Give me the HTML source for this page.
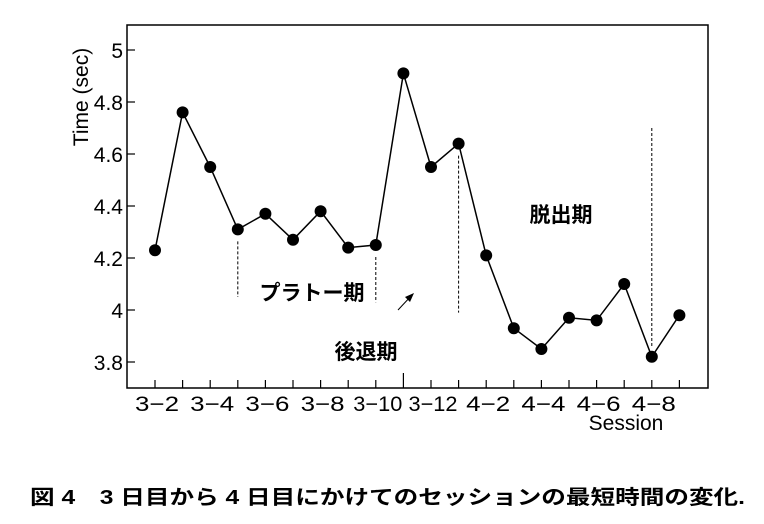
<!DOCTYPE html>
<html><head><meta charset="utf-8"><style>
html,body{margin:0;padding:0;background:#fff;width:764px;height:524px;overflow:hidden}
svg text{font-family:"Liberation Sans","Noto Sans CJK JP",sans-serif}
</style></head><body>
<svg id="chart" width="764" height="524">
<rect x="127" y="25" width="581" height="363" fill="none" stroke="#000" stroke-width="1.5"/>
<g id="yaxis"></g>
<g id="xaxis"></g>
<g id="dashes"></g>
<g id="series"></g>
<text x="0" y="0" transform="translate(88,97) rotate(-90)" text-anchor="middle" font-size="21">Time (sec)</text>
<text x="626" y="430" text-anchor="middle" font-size="21">Session</text>
<text x="312" y="300" text-anchor="middle" font-size="21" font-weight="bold">プラトー期</text>
<text x="366" y="359" text-anchor="middle" font-size="21" font-weight="bold">後退期</text>
<text x="561" y="222" text-anchor="middle" font-size="21" font-weight="bold">脱出期</text>
<line x1="398" y1="310" x2="412" y2="295" stroke="#000" stroke-width="1"/>
<polygon points="414,293 405,297 410,302" fill="#000"/>
<text x="30" y="504" font-size="20" font-weight="bold" textLength="715" lengthAdjust="spacingAndGlyphs">図 4　3 日目から 4 日目にかけてのセッションの最短時間の変化.</text>
</svg>
<script>
const sessions = ["3-2","3-3","3-4","3-5","3-6","3-7","3-8","3-9","3-10","3-11","3-12","4-1","4-2","4-3","4-4","4-5","4-6","4-7","4-8","4-9"];
const times = [4.23,4.76,4.55,4.31,4.37,4.27,4.38,4.24,4.25,4.91,4.55,4.64,4.21,3.93,3.85,3.97,3.96,4.10,3.82,3.98];
const xLabels = ["3\u22122","3\u22124","3\u22126","3\u22128","3\u221210","3\u221212","4\u22122","4\u22124","4\u22126","4\u22128"];
const yTicks = [3.8,4,4.2,4.4,4.6,4.8,5];
const yTickLabels = ["3.8","4","4.2","4.4","4.6","4.8","5"];
const dividerIdx = [3,8,11,18];
const dividerTop = [4.31,4.25,4.64,4.70];
const dividerBottom = [4.05,4.03,3.99,3.82];
const NS="http://www.w3.org/2000/svg";
const x = i => 155 + i*27.6;
const y = v => 310 - (v-4)*260;
function el(t,a,p){const e=document.createElementNS(NS,t);for(const k in a)e.setAttribute(k,a[k]);p.appendChild(e);return e;}
const ya=document.getElementById('yaxis');
yTicks.forEach((v,i)=>{
  const l=el('line',{x1:127,x2:135,y1:y(v),y2:y(v),stroke:'#000','stroke-width':1.2},ya);
  
  
  const t=el('text',{x:123,y:y(v)+8,'text-anchor':'end','font-size':21},ya);
  t.textContent=yTickLabels[i];
  
  
});
const xa=document.getElementById('xaxis');
sessions.forEach((s,i)=>{
  const l=el('line',{x1:x(i),x2:x(i),y1:388,y2:i===9?373:380,stroke:'#000','stroke-width':1.2},xa);
  
  
});
xLabels.forEach((s,j)=>{
  const t=el('text',{x:x(j*2)+2,y:411,'text-anchor':'middle','font-size':21,textLength:j===4||j===5?49:44,lengthAdjust:'spacingAndGlyphs'},xa);
  t.textContent=s;
  
  
});
const dg=document.getElementById('dashes');
dividerIdx.forEach((d,i)=>{
  const l=el('line',{x1:x(d),x2:x(d),y1:y(dividerTop[i])+(i===3?0:12),y2:y(dividerBottom[i])-(i===3?10:0),stroke:'#000','stroke-width':1,'stroke-dasharray':'3,2'},dg);
  
  
});
const sg=document.getElementById('series');
const p=el('polyline',{points:times.map((v,i)=>x(i)+','+y(v)).join(' '),fill:'none',stroke:'#000','stroke-width':1.5},sg);


times.forEach((v,i)=>{
  const c=el('circle',{cx:x(i),cy:y(v),r:6,fill:'#000'},sg);
  
  
});
</script>
</body></html>
